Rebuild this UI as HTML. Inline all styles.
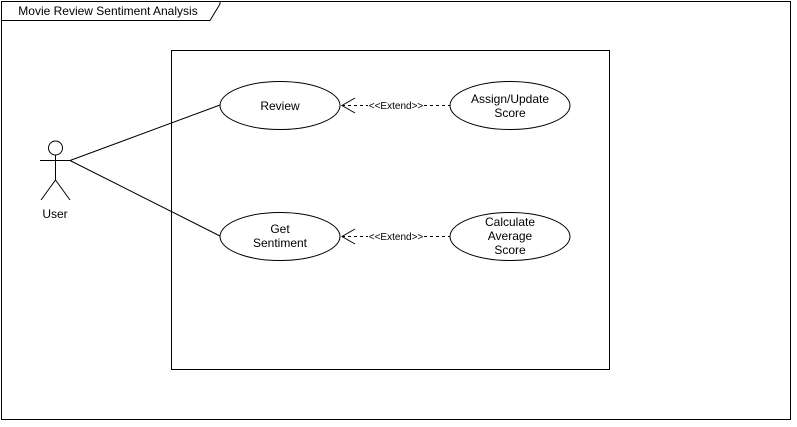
<!DOCTYPE html>
<html><head><style>body{margin:0;background:#fff}svg{display:block}</style></head><body>
<svg width="797" height="427" xmlns="http://www.w3.org/2000/svg" font-family="Liberation Sans, sans-serif" font-size="12" fill="#000">
<rect x="1.5" y="1.5" width="789" height="418" fill="#fff" stroke="#000"/>
<path d="M1.5 1.5 H220 V4 L210 20.5 H1.5 Z" fill="#fff" stroke="#000"/>
<text x="108" y="15" text-anchor="middle">Movie Review Sentiment Analysis</text>
<rect x="171.5" y="50.5" width="438" height="319" fill="#fff" stroke="#000"/>
<g fill="none" stroke="#000">
<circle cx="55.5" cy="148" r="7"/>
<line x1="55.5" y1="155" x2="55.5" y2="180"/>
<line x1="40" y1="160.5" x2="71" y2="160.5"/>
<line x1="55.5" y1="180" x2="41" y2="200"/>
<line x1="55.5" y1="180" x2="70" y2="200"/>
<line x1="70" y1="160.5" x2="220" y2="105"/>
<line x1="70" y1="160.5" x2="220" y2="236"/>
<ellipse cx="280" cy="105.5" rx="60" ry="24" fill="#fff"/>
<ellipse cx="280" cy="236.5" rx="60" ry="24" fill="#fff"/>
<ellipse cx="510" cy="105.5" rx="60" ry="24" fill="#fff"/>
<ellipse cx="510" cy="236.5" rx="60" ry="24" fill="#fff"/>
<line x1="342" y1="105.5" x2="368" y2="105.5" stroke-dasharray="3,3"/>
<line x1="424" y1="105.5" x2="450" y2="105.5" stroke-dasharray="3,3"/>
<line x1="342" y1="236.5" x2="368" y2="236.5" stroke-dasharray="3,3"/>
<line x1="424" y1="236.5" x2="450" y2="236.5" stroke-dasharray="3,3"/>
<path d="M355 98 L342 105.5 L355 113"/>
<path d="M355 229 L342 236.5 L355 244"/>
</g>
<text x="55" y="218" text-anchor="middle">User</text>
<text x="280" y="110" text-anchor="middle">Review</text>
<text x="280" y="233" text-anchor="middle">Get</text>
<text x="280" y="247" text-anchor="middle">Sentiment</text>
<text x="510" y="103" text-anchor="middle">Assign/Update</text>
<text x="510" y="117" text-anchor="middle">Score</text>
<text x="510" y="226" text-anchor="middle">Calculate</text>
<text x="510" y="240" text-anchor="middle">Average</text>
<text x="510" y="254" text-anchor="middle">Score</text>
<text x="396" y="109" text-anchor="middle" font-size="10">&lt;&lt;Extend&gt;&gt;</text>
<text x="396" y="240" text-anchor="middle" font-size="10">&lt;&lt;Extend&gt;&gt;</text>
</svg>
</body></html>
